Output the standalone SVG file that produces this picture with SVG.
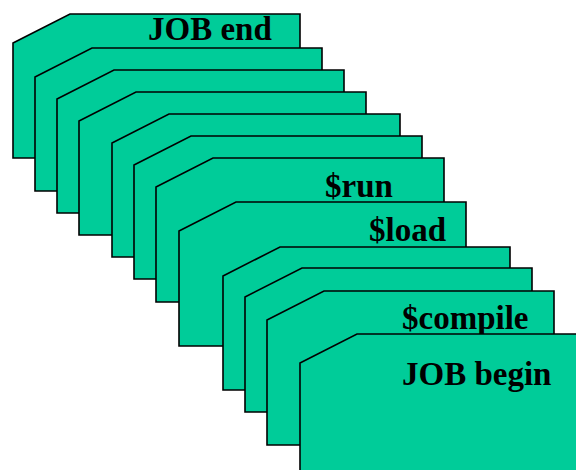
<svg xmlns="http://www.w3.org/2000/svg" width="576" height="470" viewBox="0 0 576 470">
<style>
.card{fill:#00CC99;stroke:#000;stroke-width:1.6;stroke-linejoin:miter}
.lbl{font-family:"Liberation Serif","Times New Roman",serif;font-weight:bold;font-size:33px;fill:#000}
</style>
<rect width="576" height="470" fill="#fff"/>
<g id="card1"><path class="card" d="M13,43 L70,14 L300,14 L300,158 L13,158 Z"/><text class="lbl" x="148" y="40">JOB end</text></g>
<g id="card2"><path class="card" d="M35,77 L92,48 L322,48 L322,191 L35,191 Z"/></g>
<g id="card3"><path class="card" d="M57,99 L114,70 L344,70 L344,213 L57,213 Z"/></g>
<g id="card4"><path class="card" d="M79,121 L136,92 L366,92 L366,235 L79,235 Z"/></g>
<g id="card5"><path class="card" d="M112,143 L169,114 L400,114 L400,257 L112,257 Z"/></g>
<g id="card6"><path class="card" d="M134,165 L191,136 L422,136 L422,279 L134,279 Z"/></g>
<g id="card7"><path class="card" d="M156,187 L213,158 L444,158 L444,302 L156,302 Z"/><text class="lbl" x="325" y="197">$run</text></g>
<g id="card8"><path class="card" d="M179,231 L236,202 L466,202 L466,346 L179,346 Z"/><text class="lbl" x="369" y="241">$load</text></g>
<g id="card9"><path class="card" d="M223,276 L280,247 L510,247 L510,390 L223,390 Z"/></g>
<g id="card10"><path class="card" d="M245,297 L302,268 L532,268 L532,412 L245,412 Z"/></g>
<g id="card11"><path class="card" d="M267,320 L324,291 L554,291 L554,445 L267,445 Z"/><text class="lbl" x="402" y="329">$compile</text></g>
<g id="card12"><path class="card" d="M300,363 L357,334 L590,334 L590,480 L300,480 Z"/><text class="lbl" x="402" y="385">JOB begin</text></g>
<g id="connectors"></g>
</svg>
